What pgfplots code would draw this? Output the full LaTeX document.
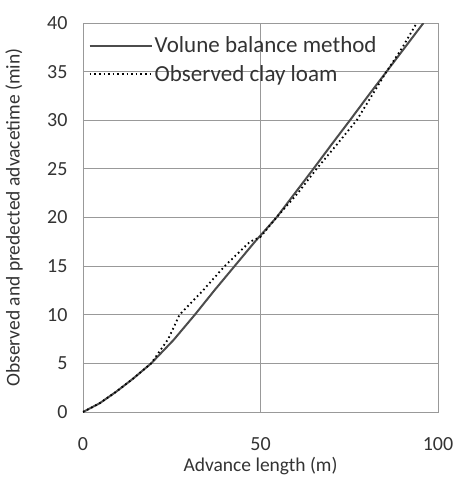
\documentclass[border=0pt]{standalone}
\usepackage{pgfplots}
\pgfplotsset{compat=1.18}
\usepackage{fontspec}
\setmainfont{Carlito}
\begin{document}
\begin{tikzpicture}
\begin{axis}[
  scale only axis,
  width=355pt, height=389pt,
  xmin=0, xmax=100, ymin=0, ymax=40,
  xtick={0,50,100}, ytick={0,5,...,40},
  grid=major,
  major grid style={gray!80, line width=0.8pt},
  axis line style={gray!80, line width=0.8pt},
  major tick length=0pt,
  /pgf/number format/assume math mode=true,
  tick label style={font=\fontsize{20}{22}\selectfont, text=black!80},
  xticklabel style={yshift=-22pt},
  yticklabel style={xshift=-12pt},
  xlabel={Advance length (m)},
  ylabel={Observed and predected advacetime (min)},
  label style={font=\fontsize{19.5}{22}\selectfont, text=black!80},
  xlabel style={at={(axis description cs:0.5,0)}, anchor=north, yshift=-42pt},
  ylabel style={at={(axis description cs:-0.16,0.5)}, anchor=south},
  legend style={draw=none, fill=none, at={(0.01,0.975)}, anchor=north west,
    font=\fontsize{23}{25}\selectfont, text=black!80, row sep=7pt,
    inner sep=2pt},
  legend cell align=left,
  legend image code/.code={\draw[#1] (0pt,0pt) -- (62pt,0pt);},
]
\addplot[gray!60!black, line width=2pt] coordinates {
(0,0) (4.7,0.9) (9.4,2.1) (14,3.4) (19.2,5) (25.5,7.4) (31.5,10) (37,12.5)
(42.7,15) (48.4,17.5) (54.5,20) (59.7,22.5) (64.9,25) (70,27.5) (75.2,30)
(80.3,32.5) (85.5,35) (90.7,37.5) (95.9,40)};
\addlegendentry{Volune balance method}
\addplot[black, line width=1.8pt, dash pattern=on 1.6pt off 3pt] coordinates {
(0,0) (4.7,0.9) (9.4,2.1) (14,3.4) (19.2,5) (24,7.5) (27.2,10) (33.8,12.5)
(39.9,15) (47,17.5) (50,18) (54.5,20) (60.5,22.5) (65.8,25) (71.5,27.5)
(77.1,30) (81.3,32.5) (85.5,35) (90,37.5) (94,40)};
\addlegendentry{Observed clay loam}
\end{axis}
\pgfresetboundingbox
\path[use as bounding box] (-83pt,-65pt) rectangle (373pt,412pt);
\end{tikzpicture}
\end{document}
